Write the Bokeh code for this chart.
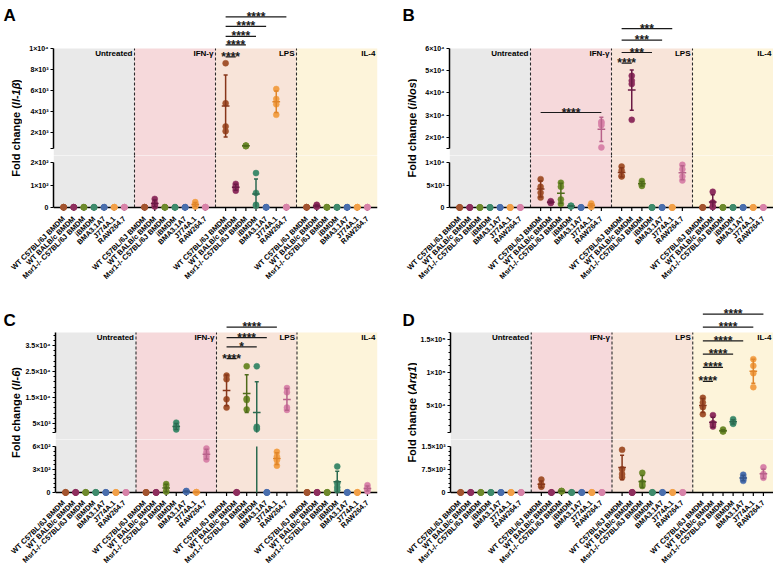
import math
import numpy as np
from bokeh.plotting import figure
from bokeh.layouts import row, column
from bokeh.models import ColumnDataSource, FixedTicker, Range1d, Label
from bokeh.core.properties import value
from bokeh.embed import file_html
from bokeh.resources import INLINE

# ---------------- data ----------------
cell_lines = ["WT C57BL/6J BMDM", "WT BALB/c BMDM", "Msr1-/- C57BL/6J BMDM",
              "iBMDM", "BMA3.1A7", "J774A.1", "RAW264.7"]
treatments = ["Untreated", "IFN-γ", "LPS", "IL-4"]

point_colors = ["#A3542F", "#8E2F5E", "#6E8A2C", "#3F8B6C", "#4A6FAE", "#F2A048", "#D883A9"]
bar_colors = ["#87361A", "#6B1A45", "#4F6A1A", "#2C6A50", "#34558C", "#E0852A", "#B8628A"]
bg_colors = ["#E9E9E9", "#F6D9DB", "#F8E4D9", "#FDF4DA"]

# Panel A: Il-1beta (values per cell line, replicates)
il1b_untreated = [[1, 1, 1, 1], [1, 1, 1, 1], [1, 1, 1, 1], [1, 1, 1, 1], [1, 1, 1, 1], [1, 1, 1, 1], [1, 1, 1, 1]]
il1b_ifng = [[1, 1, 1, 1], [38, 20, 10, 4], [1, 1, 1, 1], [1, 1, 1, 1], [1, 1, 1, 1], [24, 16, 9, 4], [1, 1, 1, 1]]
il1b_lps = [[8600, 4800, 2600, 2150], [105, 95, 85, 75], [780, 760, 745, 725], [153, 65, 12, 8],
            [1, 1, 1, 1], [6150, 5200, 4700, 3700], [1, 1, 1, 1]]
il1b_il4 = [[1, 1, 1, 1], [12, 8, 5, 3], [1, 1, 1, 1], [1, 1, 1, 1], [1, 1, 1, 1], [1, 1, 1, 1], [1, 1, 1, 1]]
il1b_top_seg = [500, 10000]
il1b_bot_max = 200
il1b_top_ticks = [2000, 4000, 6000, 8000, 10000]
il1b_top_labels = ["2×10³", "4×10³", "6×10³", "8×10³", "1×10⁴"]
il1b_bot_ticks = [0, 100, 200]
il1b_bot_labels = ["0", "1×10²", "2×10²"]
il1b_sig_group = [2, 2, 2, 2, 2]
il1b_sig_from = [0, 0, 0, 0, 0]
il1b_sig_to = [1, 2, 3, 4, 6]
il1b_sig_y = [9200, 10350, 11150, 12100, 13000]
il1b_sig_text = ["****", "****", "****", "****", "****"]

# Panel B: iNos
inos_untreated = [[1, 1, 1, 1], [1, 1, 1, 1], [1, 1, 1, 1], [1, 1, 1, 1], [1, 1, 1, 1], [1, 1, 1, 1], [1, 1, 1, 1]]
inos_ifng = [[6300, 4600, 3300, 2200], [1400, 1250, 1100, 1000], [5500, 4600, 1800, 800], [400, 350, 300, 250],
             [1, 1, 1, 1], [900, 600, 300, 100], [27000, 26500, 25500, 15500]]
inos_lps = [[9100, 8200, 7000, 6900], [47700, 45500, 44000, 27900], [5900, 5500, 5000, 4800], [1, 1, 1, 1],
            [1, 1, 1, 1], [1, 1, 1, 1], [9500, 8500, 6900, 6000]]
inos_il4 = [[1, 1, 1, 1], [3500, 1100, 200, 100], [1, 1, 1, 1], [1, 1, 1, 1], [1, 1, 1, 1], [1, 1, 1, 1], [1, 1, 1, 1]]
inos_top_seg = [15000, 60000]
inos_bot_max = 10000
inos_top_ticks = [20000, 30000, 40000, 50000, 60000]
inos_top_labels = ["2×10⁴", "3×10⁴", "4×10⁴", "5×10⁴", "6×10⁴"]
inos_bot_ticks = [0, 5000, 10000]
inos_bot_labels = ["0", "5×10³", "1×10⁴"]
inos_sig_group = [2, 2, 2, 2, 1]
inos_sig_from = [0, 0, 0, 0, 0]
inos_sig_to = [1, 3, 4, 5, 6]
inos_sig_y = [53400, 58200, 63800, 68900, 31200]
inos_sig_text = ["****", "***", "***", "***", "****"]

# Panel C: Il-6
il6_untreated = [[1, 1, 1, 1], [1, 1, 1, 1], [1, 1, 1, 1], [1, 1, 1, 1], [1, 1, 1, 1], [1, 1, 1, 1], [1, 1, 1, 1]]
il6_ifng = [[1, 1, 1, 1], [1, 1, 1, 1], [110, 90, 20, 10], [5300, 4000, 3200, 2700], [20, 15, 10, 5],
            [3, 2, 2, 1], [575, 525, 470, 430]]
il6_lps = [[23400, 22000, 14300, 11100], [1, 1, 1, 1], [27000, 14500, 14000, 10400], [27000, 3700, 3200, 2800],
           [1, 1, 1, 1], [530, 470, 420, 350], [18600, 17000, 11100, 10200]]
il6_il4 = [[1, 1, 1, 1], [1, 1, 1, 1], [1, 1, 1, 1], [340, 120, 70, 30], [1, 1, 1, 1], [1, 1, 1, 1], [95, 60, 40, 15]]
il6_top_seg = [1500, 40000]
il6_bot_max = 600
il6_top_ticks = [5000, 15000, 25000, 35000]
il6_top_labels = ["5×10³", "1.5×10⁴", "2.5×10⁴", "3.5×10⁴"]
il6_bot_ticks = [0, 300, 600]
il6_bot_labels = ["0", "3×10²", "6×10²"]
il6_sig_group = [2, 2, 2, 2]
il6_sig_from = [0, 0, 0, 0]
il6_sig_to = [1, 3, 4, 5]
il6_sig_y = [29960, 34500, 38000, 42100]
il6_sig_text = ["****", "*", "****", "****"]

# Panel D: Arg1
arg1_untreated = [[1, 1, 1, 1], [1, 1, 1, 1], [1, 1, 1, 1], [1, 1, 1, 1], [1, 1, 1, 1], [1, 1, 1, 1], [1, 1, 1, 1]]
arg1_ifng = [[420, 260, 200, 190], [1, 1, 1, 1], [50, 45, 40, 35], [1, 1, 1, 1], [1, 1, 1, 1], [1, 1, 1, 1], [1, 1, 1, 1]]
arg1_lps = [[1390, 760, 600, 500], [1, 1, 1, 1], [640, 330, 250, 210], [1, 1, 1, 1], [1, 1, 1, 1], [1, 1, 1, 1],
            [1, 1, 1, 1]]
arg1_il4 = [[62000, 55000, 48000, 37500], [36000, 24000, 22000, 19000], [14500, 13000, 12000, 11500],
            [30000, 27000, 24000, 23000], [580, 500, 430, 380], [120000, 110000, 99000, 78000], [820, 600, 530, 480]]
arg1_top_seg = [10000, 160000]
arg1_bot_max = 1500
arg1_top_ticks = [50000, 100000, 150000]
arg1_top_labels = ["5×10⁴", "1×10⁵", "1.5×10⁵"]
arg1_bot_ticks = [0, 750, 1500]
arg1_bot_labels = ["0", "7.5×10²", "1.5×10³"]
arg1_sig_group = [3, 3, 3, 3, 3, 3]
arg1_sig_from = [0, 0, 0, 0, 0, 0]
arg1_sig_to = [1, 2, 3, 4, 5, 6]
arg1_sig_y = [86700, 107800, 127500, 147300, 168000, 187700]
arg1_sig_text = ["****", "****", "****", "****", "****", "****"]

# ---------------- layout / style ----------------
FONT = "Liberation Sans"
GW = 8          # x units per treatment group
FW = 324        # frame width (px)

CHAR_W = {' ': 278, '(': 333, ')': 333, '-': 333, '.': 278, '0': 556, '1': 556, '6': 556,
          'A': 722, 'F': 611, 'I': 278, 'N': 722, 'a': 556, 'c': 556, 'd': 611, 'e': 556,
          'g': 611, 'h': 611, 'i': 278, 'l': 278, 'n': 611, 'o': 611, 'r': 389, 's': 556, 'β': 573}


def wtxt(s, fs):
    return sum(CHAR_W.get(c, 556) for c in s) / 1000.0 * fs


def xpos(g, i):
    return g * GW + 1 + i


def clean(p):
    p.xgrid.visible = False
    p.ygrid.visible = False
    p.outline_line_color = None
    p.background_fill_color = "white"
    p.border_fill_color = "white"


def style_axis(ax, size="7px"):
    ax.axis_line_width = 1.5
    ax.axis_line_color = "black"
    ax.major_tick_line_color = "black"
    ax.major_tick_line_width = 1.2
    ax.major_tick_out = 3
    ax.major_tick_in = 0
    ax.minor_tick_line_color = "black"
    ax.minor_tick_out = 2
    ax.minor_tick_in = 0
    ax.major_label_standoff = 2
    ax.major_label_text_font = FONT
    ax.major_label_text_font_style = "bold"
    ax.major_label_text_font_size = size
    ax.major_label_text_color = "black"


def build_panel(letter, gene, groups, top_seg, bot_max, top_ticks, top_labels, bot_ticks, bot_labels,
                top_minor, bot_minor, sig_group, sig_from, sig_to, sig_y, sig_text, geo, pw):
    Ht, tmax, tmin = geo["Ht"], geo["tmax"], geo["tmin"]
    Hm, btop, bzero, Hax = geo["Hm"], geo["btop"], geo["bzero"], geo["Hax"]
    lw, bl, lab_cx, let_x, let_top = pw["lw"], pw["bl"], pw["lab_cx"], pw["let_x"], pw["let_top"]
    W = pw["W"]
    mw = W - lw
    br = mw - bl - FW

    smin, smax = top_seg
    vpp = (smax - smin) / (tmin - tmax)
    top_range = Range1d(smin - (Ht - tmin) * vpp, smax + tmax * vpp)
    vppb = bot_max / (bzero - btop)
    bot_range = Range1d(-(Hm - bzero) * vppb, bot_max + btop * vppb)
    xr = Range1d(0, 4 * GW)

    common = dict(output_backend="svg", toolbar_location=None, x_range=xr, width=mw,
                  min_border_left=bl, min_border_right=br, min_border_top=0, min_border_bottom=0,
                  x_axis_location=None)
    top = figure(height=Ht, y_range=top_range, **common)
    mid = figure(height=Hm, y_range=bot_range, **common)
    clean(top)
    clean(mid)

    lefts = [g * GW for g in range(4)]
    rights = [(g + 1) * GW for g in range(4)]
    top.quad(left=lefts, right=rights, bottom=[top_range.start - 50 * vpp] * 4, top=[smax] * 4,
             fill_color=bg_colors, line_color=None)
    mid.quad(left=lefts, right=rights, bottom=[0] * 4, top=[bot_range.end + 50 * vppb] * 4,
             fill_color=bg_colors, line_color=None)
    divs = rights[:3]
    top.segment(x0=divs, y0=[top_range.start - 50 * vpp] * 3, x1=divs, y1=[smax] * 3,
                line_color="#2b2b2b", line_dash="3 2", line_width=1.1)
    mid.segment(x0=divs, y0=[0] * 3, x1=divs, y1=[bot_range.end + 50 * vppb] * 3,
                line_color="#2b2b2b", line_dash="3 2", line_width=1.1)

    # x axis line at zero and its tick marks (drawn below the points)
    xt = [xpos(g, i) for g in range(4) for i in range(7)]
    mid.segment(x0=xt, y0=[0] * len(xt), x1=xt, y1=[bot_range.start] * len(xt),
                line_color="black", line_width=1.2)
    mid.segment(x0=[0], y0=[0], x1=[4 * GW], y1=[0], line_color="black", line_width=1.6)

    # points and mean +/- SD bars
    pts = {"top": dict(x=[], y=[], c=[]), "mid": dict(x=[], y=[], c=[])}
    bars = {"top": dict(x0=[], y0=[], x1=[], y1=[], c=[]), "mid": dict(x0=[], y0=[], x1=[], y1=[], c=[])}

    def add_bar(key, x0, y0, x1, y1, c):
        b = bars[key]
        b["x0"].append(x0); b["y0"].append(y0); b["x1"].append(x1); b["y1"].append(y1); b["c"].append(c)

    for g, grp in enumerate(groups):
        for i, vals in enumerate(grp):
            x = xpos(g, i)
            for v in vals:
                key = "top" if v >= smin else "mid"
                pts[key]["x"].append(x); pts[key]["y"].append(v); pts[key]["c"].append(point_colors[i])
            arr = np.array(vals, dtype=float)
            sd = float(arr.std(ddof=1)) if len(arr) > 1 else 0.0
            if sd <= 0:
                continue
            m = float(arr.mean())
            lo, hi = m - sd, m + sd
            c = bar_colors[i]
            if hi > smin:
                add_bar("top", x, max(lo, smin), x, hi, c)
                add_bar("top", x - 0.2, hi, x + 0.2, hi, c)
                if lo >= smin:
                    add_bar("top", x - 0.2, lo, x + 0.2, lo, c)
                if m >= smin:
                    add_bar("top", x - 0.38, m, x + 0.38, m, c)
            if lo < bot_max:
                add_bar("mid", x, max(lo, 0), x, min(hi, bot_max), c)
                if hi <= bot_max:
                    add_bar("mid", x - 0.2, hi, x + 0.2, hi, c)
                if 0 <= lo <= bot_max:
                    add_bar("mid", x - 0.2, lo, x + 0.2, lo, c)
                if m <= bot_max:
                    add_bar("mid", x - 0.38, m, x + 0.38, m, c)

    for key, p in (("top", top), ("mid", mid)):
        p.scatter(x="x", y="y", color="c", size=6, line_width=0.5,
                  source=ColumnDataSource(pts[key]))
        p.segment(x0="x0", y0="y0", x1="x1", y1="y1", line_color="c", line_width=1.5,
                  source=ColumnDataSource(bars[key]))

    # significance bars
    sx0 = [xpos(g, a) for g, a in zip(sig_group, sig_from)]
    sx1 = [xpos(g, b) for g, b in zip(sig_group, sig_to)]
    top.segment(x0=sx0, y0=sig_y, x1=sx1, y1=sig_y, line_color="#1a1a1a", line_width=1.2)
    top.text(x=[(a + b) / 2 for a, b in zip(sx0, sx1)], y=sig_y, text=sig_text,
             text_align="center", text_baseline="middle", text_font=value(FONT),
             text_font_style="bold", text_font_size="12px", text_color="#1a1a1a")

    # treatment labels
    top.text(x=[r - 0.2 for r in rights], y=[smax] * 4, text=treatments, text_align="right",
             text_baseline="top", text_font=value(FONT), text_font_style="bold",
             text_font_size="8px", text_color="black")

    # y axes (broken)
    style_axis(top.yaxis[0])
    top.yaxis.bounds = (smin, smax)
    top.yaxis.ticker = FixedTicker(ticks=[smin] + list(top_ticks), minor_ticks=list(top_minor))
    ov = {smin: ""}
    ov.update({t: l for t, l in zip(top_ticks, top_labels)})
    top.yaxis.major_label_overrides = ov

    style_axis(mid.yaxis[0])
    mid.yaxis.bounds = (0, bot_max)
    mid.yaxis.ticker = FixedTicker(ticks=list(bot_ticks), minor_ticks=list(bot_minor))
    mid.yaxis.major_label_overrides = {t: l for t, l in zip(bot_ticks, bot_labels)}

    # label strip (y title + panel letter)
    Hl = Ht + Hm
    lab = figure(width=lw, height=Hl, x_range=Range1d(0, lw), y_range=Range1d(0, Hl),
                 output_backend="svg", toolbar_location=None, x_axis_location=None, y_axis_location=None,
                 min_border_left=0, min_border_right=0, min_border_top=0, min_border_bottom=0)
    clean(lab)
    fs = 11
    pieces = [("Fold change (", "bold"), (gene, "bold italic"), (")", "bold")]
    total = sum(wtxt(t, fs) for t, _ in pieces)
    center_from_top = (tmax + Ht + bzero) / 2.0
    ycur = Hl - center_from_top - total / 2.0
    for t, st in pieces:
        lab.add_layout(Label(x=lab_cx, y=ycur, text=t, angle=math.pi / 2, text_align="left",
                             text_baseline="middle", text_font=FONT, text_font_size=f"{fs}px",
                             text_font_style=st, text_color="black"))
        ycur += wtxt(t, fs)
    lab.add_layout(Label(x=let_x, y=Hl - let_top, text=letter, text_align="left", text_baseline="top",
                         text_font=FONT, text_font_size="17px", text_font_style="bold",
                         text_color="black"))

    # x tick labels strip
    ax = figure(width=W, height=Hax, x_range=xr, y_range=Range1d(0, 1), output_backend="svg",
                toolbar_location=None, y_axis_location=None, min_border_left=lw + bl,
                min_border_right=br, min_border_top=0, min_border_bottom=Hax - 1)
    clean(ax)
    style_axis(ax.xaxis[0], size="7.4px")
    ax.xaxis.axis_line_color = None
    ax.xaxis.major_tick_line_color = None
    ax.xaxis.major_tick_out = 0
    ax.xaxis.major_label_standoff = geo["stand"]
    ax.xaxis.ticker = FixedTicker(ticks=xt)
    ax.xaxis.major_label_overrides = {x: cell_lines[k % 7] for k, x in enumerate(xt)}
    ax.xaxis.major_label_orientation = math.pi / 4

    return column(row(lab, column(top, mid)), ax)


geo1 = dict(Ht=155, tmax=48, tmin=148, Hm=56, btop=7, bzero=52, Hax=80, stand=5)
geo2 = dict(Ht=148, tmax=41, tmin=141, Hm=57, btop=7, bzero=53, Hax=73, stand=5)
pwL = dict(W=386, lw=22, bl=31, lab_cx=15.5, let_x=3, let_top=5)
pwR = dict(W=387, lw=31, bl=32, lab_cx=25, let_x=16, let_top=5)
pwL2 = dict(pwL, let_top=19)
pwR2 = dict(pwR, let_top=19)

il6_top_minor = [v for v in range(3000, 40001, 2000) if v not in il6_top_ticks]
il6_bot_minor = [v for v in range(60, 600, 60) if v not in il6_bot_ticks]
arg1_top_minor = [v for v in range(20000, 160001, 10000) if v not in arg1_top_ticks]
arg1_bot_minor = [v for v in range(150, 1500, 150) if v not in arg1_bot_ticks]

pA = build_panel("A", "Il-1β", [il1b_untreated, il1b_ifng, il1b_lps, il1b_il4], il1b_top_seg, il1b_bot_max,
                 il1b_top_ticks, il1b_top_labels, il1b_bot_ticks, il1b_bot_labels, [], [],
                 il1b_sig_group, il1b_sig_from, il1b_sig_to, il1b_sig_y, il1b_sig_text, geo1, pwL)
pB = build_panel("B", "iNos", [inos_untreated, inos_ifng, inos_lps, inos_il4], inos_top_seg, inos_bot_max,
                 inos_top_ticks, inos_top_labels, inos_bot_ticks, inos_bot_labels, [], [],
                 inos_sig_group, inos_sig_from, inos_sig_to, inos_sig_y, inos_sig_text, geo1, pwR)
pC = build_panel("C", "Il-6", [il6_untreated, il6_ifng, il6_lps, il6_il4], il6_top_seg, il6_bot_max,
                 il6_top_ticks, il6_top_labels, il6_bot_ticks, il6_bot_labels, il6_top_minor, il6_bot_minor,
                 il6_sig_group, il6_sig_from, il6_sig_to, il6_sig_y, il6_sig_text, geo2, pwL2)
pD = build_panel("D", "Arg1", [arg1_untreated, arg1_ifng, arg1_lps, arg1_il4], arg1_top_seg, arg1_bot_max,
                 arg1_top_ticks, arg1_top_labels, arg1_bot_ticks, arg1_bot_labels, arg1_top_minor, arg1_bot_minor,
                 arg1_sig_group, arg1_sig_from, arg1_sig_to, arg1_sig_y, arg1_sig_text, geo2, pwR2)

layout = column(row(pA, pB), row(pC, pD))
open("out.html", "w").write(file_html(layout, INLINE))
